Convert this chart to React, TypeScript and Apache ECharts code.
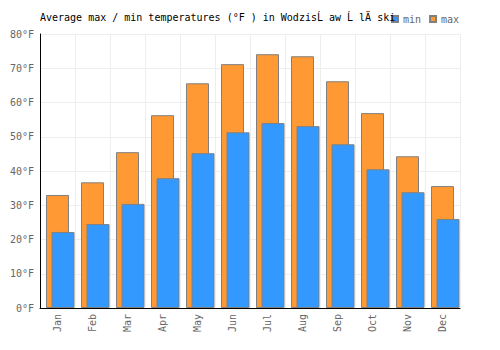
import React, { useEffect, useRef } from "react";
import * as echarts from "echarts";

const months = ["Jan", "Feb", "Mar", "Apr", "May", "Jun", "Jul", "Aug", "Sep", "Oct", "Nov", "Dec"];
const maxTemps = [33, 36.7, 45.5, 56.3, 65.6, 71.2, 74.1, 73.5, 66.2, 56.9, 44.3, 35.6];
const minTemps = [22.2, 24.5, 30.4, 37.9, 45.2, 51.3, 54.0, 53.1, 47.8, 40.5, 33.8, 26.0];
const padding: (number | null)[] = months.map(() => null);

const FONT = "DejaVu Sans Mono";

export default function App() {
  const ref = useRef<HTMLDivElement>(null);
  useEffect(() => {
    if (!ref.current) return;
    const chart = echarts.init(ref.current, undefined, { renderer: "svg" });
    chart.setOption({
      animation: false,
      title: {
        text: "Average max / min temperatures (°F ) in WodzisĹ aw Ĺ lÄ ski",
        left: 35,
        top: 7,
        textStyle: { fontFamily: FONT, fontSize: 10, fontWeight: "normal", color: "#000" },
      },
      legend: {
        data: ["min", "max"],
        left: 386,
        top: 9,
        icon: "rect",
        itemWidth: 6,
        itemHeight: 6,
        itemGap: 8,
        textStyle: { fontFamily: FONT, fontSize: 10, color: "#666" },
      },
      grid: { left: 40, right: 40, top: 34, bottom: 42, containLabel: false },
      xAxis: {
        type: "category",
        data: months,
        axisLine: { lineStyle: { color: "#000", width: 1 } },
        axisTick: { show: false },
        splitLine: { show: true, lineStyle: { color: "#eeeeee" } },
        axisLabel: {
          rotate: 90,
          margin: 6,
          color: "#666",
          fontFamily: FONT,
          fontSize: 10,
          interval: 0,
        },
      },
      yAxis: {
        type: "value",
        min: 0,
        max: 80,
        interval: 10,
        axisLine: { show: true, lineStyle: { color: "#000", width: 1 } },
        axisTick: { show: false },
        splitLine: { show: true, lineStyle: { color: "#eeeeee" } },
        axisLabel: {
          formatter: "{value}°F",
          margin: 6,
          color: "#666",
          fontFamily: FONT,
          fontSize: 10,
        },
      },
      series: [
        {
          name: "pad",
          type: "bar",
          data: padding,
          barWidth: 23,
          barGap: "-76%",
          silent: true,
        },
        {
          name: "max",
          type: "bar",
          data: maxTemps,
          barWidth: 23,
          barGap: "-76%",
          itemStyle: { color: "#ff9933", borderColor: "#808080", borderWidth: 1 },
        },
        {
          name: "min",
          type: "bar",
          data: minTemps,
          barWidth: 23,
          barGap: "-76%",
          itemStyle: { color: "#3399ff", borderColor: "#808080", borderWidth: 1 },
        },
      ],
    });
    return () => chart.dispose();
  }, []);
  return <div ref={ref} style={{ width: 500, height: 350, margin: -8 }} />;
}
